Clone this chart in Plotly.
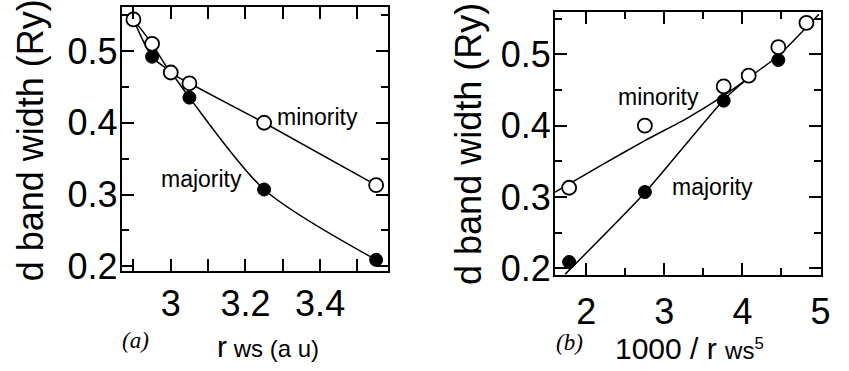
import plotly.graph_objects as go

# d band width versus Wigner-Seitz radius, majority / minority spin
rws = [2.90, 2.95, 3.00, 3.05, 3.25, 3.55]
inv_rws5 = [4.82, 4.46, 4.08, 3.76, 2.75, 1.78]
minority = [0.544, 0.510, 0.470, 0.455, 0.400, 0.313]
majority = [0.544, 0.492, 0.470, 0.435, 0.307, 0.209]

# guide lines drawn in panel (b)
maj_fit_x = [1.73, 2.75, 3.76, 4.07, 4.46, 4.98]
maj_fit_y = [0.192, 0.306, 0.436, 0.466, 0.498, 0.556]
min_fit_x = [1.60, 2.20, 2.75, 3.30, 3.76, 4.02]
min_fit_y = [0.307, 0.345, 0.379, 0.411, 0.442, 0.462]

# axis ticks
xa_ticks = [3.0, 3.2, 3.4]
xa_text = ["3", "3.2", "3.4"]
xb_ticks = [2, 3, 4, 5]
y_ticks = [0.2, 0.3, 0.4, 0.5]

W, H = 849, 371
FONT = "Liberation Sans, Arial, sans-serif"
SERIF = "Liberation Serif, Times New Roman, serif"


def fx(p):
    return p / W


def fy(p):
    return 1 - p / H


fig = go.Figure()

line = dict(color="black", width=1.5)
open_m = dict(symbol="circle", size=14, color="white", line=dict(color="black", width=1.8))
fill_m = dict(symbol="circle", size=13, color="black", line=dict(color="black", width=1))

# panel (a)
fig.add_trace(go.Scatter(x=rws, y=majority, mode="lines", line=dict(shape="spline", smoothing=0.8, **line),
                         xaxis="x", yaxis="y", hoverinfo="skip"))
fig.add_trace(go.Scatter(x=rws, y=minority, mode="lines", line=dict(shape="spline", smoothing=0.5, **line),
                         xaxis="x", yaxis="y", hoverinfo="skip"))
fig.add_trace(go.Scatter(x=rws, y=majority, mode="markers", marker=fill_m, xaxis="x", yaxis="y"))
fig.add_trace(go.Scatter(x=rws, y=minority, mode="markers", marker=open_m, xaxis="x", yaxis="y"))

# panel (b)
fig.add_trace(go.Scatter(x=maj_fit_x, y=maj_fit_y, mode="lines", line=dict(shape="spline", smoothing=0.6, **line),
                         xaxis="x2", yaxis="y2", hoverinfo="skip"))
fig.add_trace(go.Scatter(x=min_fit_x, y=min_fit_y, mode="lines", line=dict(shape="spline", smoothing=0.6, **line),
                         xaxis="x2", yaxis="y2", hoverinfo="skip"))
fig.add_trace(go.Scatter(x=inv_rws5, y=majority, mode="markers", marker=fill_m, xaxis="x2", yaxis="y2"))
fig.add_trace(go.Scatter(x=inv_rws5, y=minority, mode="markers", marker=open_m, xaxis="x2", yaxis="y2"))

axis_common = dict(
    showline=True, linecolor="black", linewidth=2, mirror="allticks",
    ticks="inside", ticklen=12, tickwidth=1.5, tickcolor="black",
    showgrid=False, zeroline=False, fixedrange=True,
    tickfont=dict(family=FONT, size=36, color="black"),
)


def minor(step, length):
    return dict(dtick=step, ticks="inside", ticklen=length, tickwidth=1.5, tickcolor="black", showgrid=False)


fig.update_layout(
    width=W, height=H,
    margin=dict(l=0, r=0, t=0, b=0),
    paper_bgcolor="white", plot_bgcolor="white",
    showlegend=False,
    xaxis=dict(domain=[fx(123.3), fx(392.7)], range=[2.869, 3.582], anchor="y",
               tickvals=xa_ticks, ticktext=xa_text, minor=minor(0.1, 12), **axis_common),
    yaxis=dict(domain=[fy(283), fy(7.3)], range=[0.1937, 0.5613], anchor="x",
               tickvals=y_ticks, ticktext=[f"{v:.1f}" for v in y_ticks], minor=minor(0.05, 7),
               ticklabelstandoff=-5, **axis_common),
    xaxis2=dict(domain=[fx(561.7), fx(830.5)], range=[1.600, 5.003], anchor="y2",
                tickvals=xb_ticks, ticktext=[str(v) for v in xb_ticks], minor=minor(0.5, 7),
                ticklabelstandoff=4, **axis_common),
    yaxis2=dict(domain=[fy(287.3), fy(12.7)], range=[0.1909, 0.559], anchor="x2",
                tickvals=y_ticks, ticktext=[f"{v:.1f}" for v in y_ticks], minor=minor(0.05, 7),
                ticklabelstandoff=-5, **axis_common),
)

ann = []


def text(x, y, s, size, family=FONT, angle=0, shift=0):
    ann.append(dict(x=fx(x), y=fy(y), xref="paper", yref="paper", text=s, showarrow=False,
                    xanchor="center", yanchor="middle", textangle=angle, yshift=shift,
                    font=dict(family=family, size=size, color="black")))


# axis titles
text(31, 147, "d band width (Ry)", 36, angle=-90)
text(474, 150, "d band width (Ry)", 36, angle=-90)
text(137, 350, "<i>(a)</i>", 23, family=SERIF, shift=-6)
text(271, 350, "<span style='font-size:30px'>r</span> ws (a u)", 24, shift=-12)
text(576, 355, "<i>(b)</i>", 23, family=SERIF, shift=-3)
text(698, 350, "1000 / r <span style='font-size:24px'>ws<sup>5</sup></span>", 30, shift=-14)

# series labels
text(321, 117, "minority", 23, shift=-5)
text(204, 182, "majority", 23, shift=-5)
text(666, 97, "minority", 23, shift=-4)
text(721, 189, "majority", 23, shift=-6)

fig.update_layout(annotations=ann)

fig.write_html("out.html")
